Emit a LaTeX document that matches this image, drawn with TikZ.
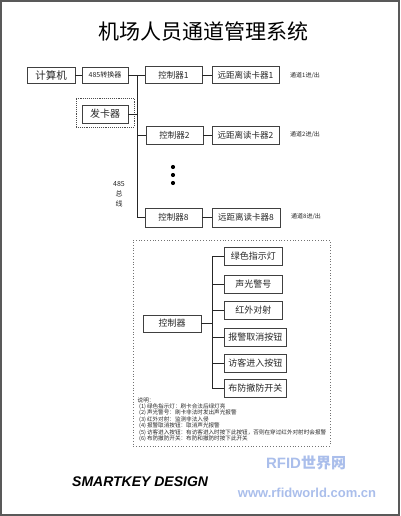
\documentclass[tikz,border=0pt]{standalone}
\usepackage{fontspec}
\setmainfont{Noto Sans CJK SC}
\newfontfamily\cjk{Noto Sans CJK SC}
\newfontfamily\arialfont{Liberation Sans}
\definecolor{wmblue}{RGB}{170,190,235}
\tikzset{
  box/.style={draw=black!75, line width=0.6pt, inner sep=0pt, minimum height=17pt, text=black!85, font=\cjk\fontsize{8.5}{9}\selectfont},
  wire/.style={draw=black!85, line width=0.6pt},
  chan/.style={inner sep=0pt, text=black!85, font=\cjk\fontsize{6}{7}\selectfont},
  note/.style={inner sep=0pt, anchor=west, text=black!85, font=\cjk\fontsize{5.6}{6}\selectfont},
  dotnode/.style={circle, fill=black, inner sep=0pt, minimum size=4.2pt},
  dframe/.style={draw=black!70, densely dotted, line width=0.9pt, inner sep=0pt},
}
\begin{document}
\begin{tikzpicture}[x=1pt,y=-1pt]
\useasboundingbox (0,0) rectangle (400,516);
\draw[black!65, line width=2pt] (1,1) rectangle (398.5,514.5);

\node[font=\cjk\fontsize{21}{22}\selectfont, inner sep=0pt] (title) at (203.5,32) {机场人员通道管理系统};

% top chain
\node[box, minimum width=48pt, minimum height=16pt, font=\cjk\fontsize{10.5}{11}\selectfont] (pc) at (51,75) {计算机};
\node[box, minimum width=46pt, minimum height=16pt, font=\cjk\fontsize{7}{8}\selectfont] (conv) at (105,75) {485转换器};
\node[box, minimum width=57pt] (c1) at (173.5,75) {控制器1};
\node[box, minimum width=67pt] (r1) at (245.5,75) {远距离读卡器1};
\node[chan, anchor=west] (t1) at (290,75.5) {通道1进/出};

\node[box, minimum width=57pt, minimum height=18pt] (c2) at (174.5,135) {控制器2};
\node[box, minimum width=67pt, minimum height=18pt] (r2) at (245.5,135) {远距离读卡器2};
\node[chan, anchor=west] (t2) at (290,134.5) {通道2进/出};

\node[box, minimum width=57pt, minimum height=19pt] (c8) at (173.5,217.5) {控制器8};
\node[box, minimum width=68pt, minimum height=19pt] (r8) at (246,217.5) {远距离读卡器8};
\node[chan, anchor=west] (t8) at (291,216.5) {通道8进/出};

% card issuer
\node[dframe, minimum width=58pt, minimum height=29pt] (fkf) at (105,112.5) {};
\node[box, minimum width=46pt, minimum height=18pt, font=\cjk\fontsize{10}{11}\selectfont] (fk) at (105,114) {发卡器};

% dots
\node[dotnode] (d1) at (173,167) {};
\node[dotnode] (d2) at (173,175) {};
\node[dotnode] (d3) at (173,183) {};

% bus label
\node[inner sep=0pt, align=center, text=black!85, font=\cjk\fontsize{7}{10}\selectfont] (buslbl) at (119,194) {485\\总\\线};

% bus
\coordinate (bt) at (137,75);
\coordinate (bb) at (137,217.5);
\draw[wire] (pc) -- (conv);
\draw[wire] (conv) -- (c1);
\draw[wire] (bt) -- (bb) -- (c8.west);
\draw[wire] (c2.west) -- (c2.west -| bt);
\draw[wire] (fk.east) -- (fk.east -| bt);
\draw[wire] (c1) -- (r1);
\draw[wire] (c2) -- (r2);
\draw[wire] (c8) -- (r8);

% lower frame
\node[draw=black!55, dotted, line width=0.8pt, inner sep=0pt, minimum width=197pt, minimum height=206pt] (lf) at (231.5,343) {};

\node[box, minimum width=58pt, font=\cjk\fontsize{9}{10}\selectfont] (ctl) at (172,323.5) {控制器};
\tikzset{obox/.style={box, minimum height=18pt, font=\cjk\fontsize{9}{10}\selectfont}}
\node[obox, minimum width=58pt, anchor=west] (o1) at (224,256) {绿色指示灯};
\node[obox, minimum width=58pt, anchor=west] (o2) at (224,284) {声光警号};
\node[obox, minimum width=58pt, anchor=west] (o3) at (224,310.5) {红外对射};
\node[obox, minimum width=62pt, anchor=west] (o4) at (224,337) {报警取消按钮};
\node[obox, minimum width=62pt, anchor=west] (o5) at (224,363) {访客进入按钮};
\node[obox, minimum width=62pt, anchor=west] (o6) at (224,388) {布防撤防开关};

\coordinate (tk) at (212,323.5);
\draw[wire] (ctl) -- (tk);
\draw[wire] (o1.west -| tk) -- (o6.west -| tk);
\foreach \i in {1,...,6} { \draw[wire] (o\i.west -| tk) -- (o\i.west); }

% notes
\node[note] (n0) at (137.5,400) {说明：};
\node[note] (n1) at (139,406.5) {(1)\,绿色指示灯：刷卡合法后绿灯亮};
\node[note] (n2) at (139,413) {(2)\,声光警号：刷卡非法时发出声光报警};
\node[note] (n3) at (139,419.5) {(3)\,红外对射：监测非法入侵};
\node[note] (n4) at (139,426) {(4)\,报警取消按钮：取消声光报警};
\node[note] (n5) at (139,432.5) {(5)\,访客进入按钮：有访客进入时按下此按钮，否则在穿过红外对射时会报警};
\node[note] (n6) at (139,439) {(6)\,布防撤防开关：布防和撤防时按下此开关};

% brand
\node[inner sep=0pt, anchor=west, font=\arialfont\bfseries\itshape\fontsize{14}{14}\selectfont] (sk) at (72,482) {SMARTKEY DESIGN};

% watermark
\node[inner sep=0pt, text=wmblue, font=\arialfont\bfseries\fontsize{15}{16}\selectfont] (wm1) at (306,463) {RFID{\cjk\bfseries 世界网}};
\node[inner sep=0pt, text=wmblue, font=\arialfont\bfseries\fontsize{13}{14}\selectfont] (wm2) at (307,493) {www.rfidworld.com.cn};
\end{tikzpicture}
\end{document}
